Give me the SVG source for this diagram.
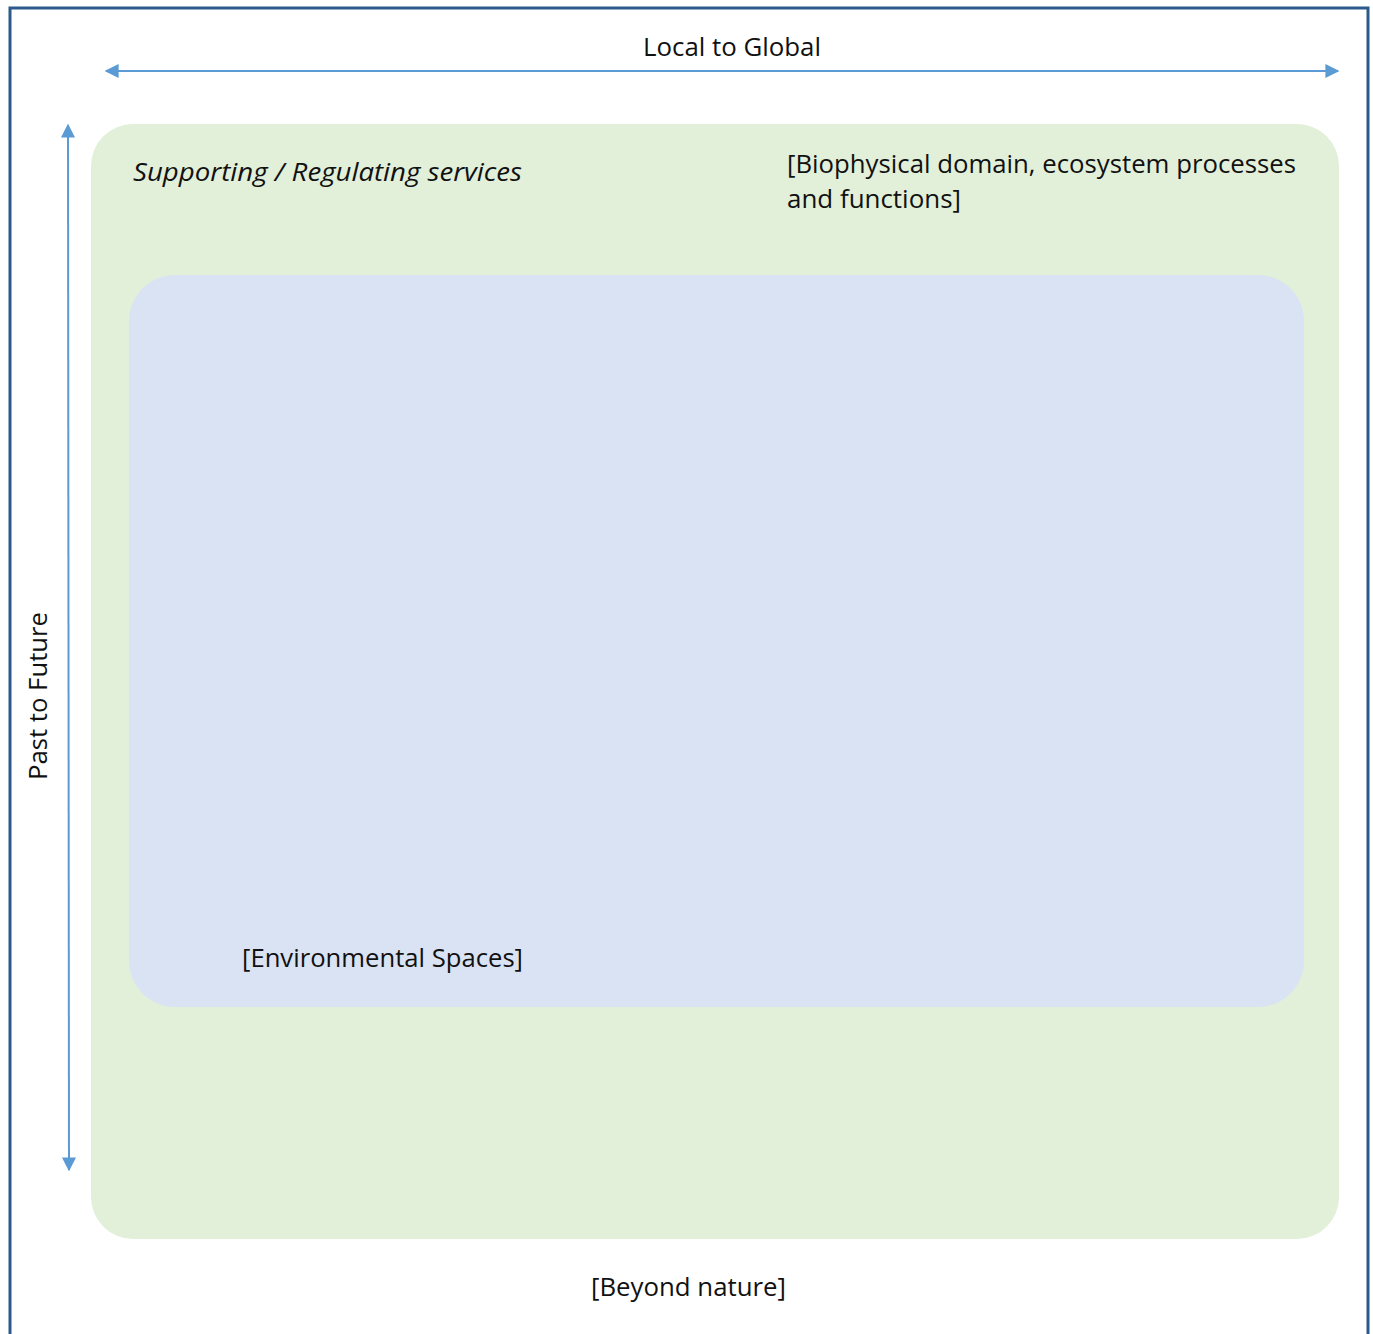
<svg xmlns="http://www.w3.org/2000/svg" width="1373" height="1334" viewBox="0 0 1373 1334">
<style>
.t{font-family:"Open Sans","Liberation Sans",sans-serif;font-size:26px;fill:#111;}
.ax{stroke:#5b9bd5;stroke-width:2;fill:none;}
</style>
<defs>
<marker id="ah" viewBox="0 0 10 10" refX="9" refY="5" markerWidth="14" markerHeight="14" markerUnits="userSpaceOnUse" orient="auto-start-reverse">
<path d="M0,0 L10,5 L0,10 z" fill="#5b9bd5"/>
</marker>
</defs>
<rect width="1373" height="1334" fill="#fff"/>
<g id="frame">
<path d="M10,1334 V8 H1368 V1334" fill="none" stroke="#2c5a8a" stroke-width="3"/>
</g>
<g id="biophysical">
<rect x="91" y="124" width="1248" height="1115" rx="42" fill="#e2efd9"/>
<text class="t" x="133" y="181" font-style="italic" textLength="389" lengthAdjust="spacingAndGlyphs">Supporting / Regulating services</text>
<text class="t" x="787" y="173" textLength="509" lengthAdjust="spacingAndGlyphs">[Biophysical domain, ecosystem processes</text>
<text class="t" x="787" y="208" textLength="174" lengthAdjust="spacingAndGlyphs">and functions]</text>
</g>
<g id="environmental">
<rect x="129" y="275" width="1175" height="732" rx="46" fill="#dae3f3"/>
<text class="t" x="242" y="967" textLength="281" lengthAdjust="spacingAndGlyphs">[Environmental Spaces]</text>
</g>
<g id="beyond">
<text class="t" x="591" y="1296" textLength="195" lengthAdjust="spacingAndGlyphs">[Beyond nature]</text>
</g>
<g id="connectors">
<line class="ax" x1="106" y1="71" x2="1338" y2="71" marker-start="url(#ah)" marker-end="url(#ah)"/>
<line class="ax" x1="68" y1="125" x2="69" y2="1170" marker-start="url(#ah)" marker-end="url(#ah)"/>
</g>
<g id="labels">
<text class="t" x="643" y="56" textLength="178" lengthAdjust="spacingAndGlyphs">Local to Global</text>
<text class="t" transform="translate(47,780) rotate(-90)" textLength="168" lengthAdjust="spacingAndGlyphs">Past to Future</text>
</g>
</svg>
